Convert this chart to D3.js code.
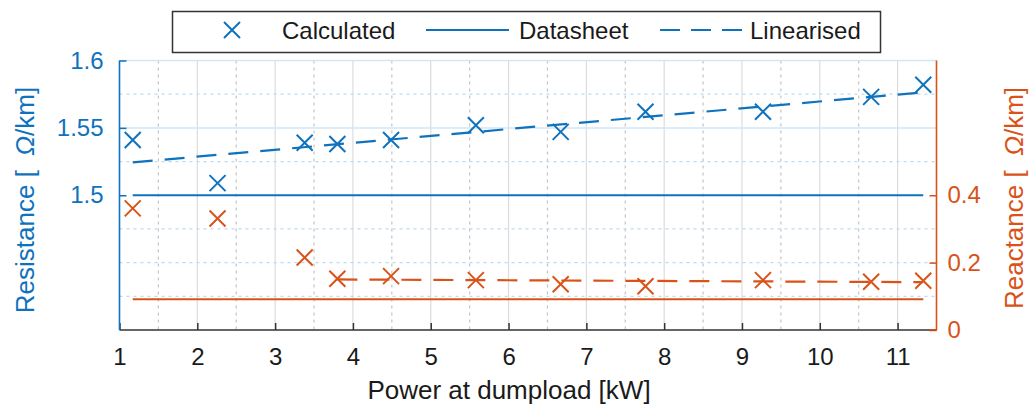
<!DOCTYPE html>
<html>
<head>
<meta charset="utf-8">
<script src="https://cdn.jsdelivr.net/npm/d3@7"></script>
<style>
  html, body { margin: 0; padding: 0; background: #fff; }
  svg { display: block; font-family: "Liberation Sans", Arial, Helvetica, sans-serif; }
</style>
</head>
<body>
<svg id="chart" width="1031" height="405"></svg>
<script>
// ---- data ----
const power = [1.17, 2.26, 3.38, 3.80, 4.49, 5.58, 6.67, 7.76, 9.27, 10.66, 11.33];
const resistanceCalc = [1.541, 1.509, 1.539, 1.538, 1.541, 1.552, 1.547, 1.562, 1.562, 1.573, 1.582];
const reactanceCalc = [0.361, 0.331, 0.215, 0.152, 0.160, 0.148, 0.136, 0.130, 0.148, 0.143, 0.146];
const resistanceDatasheet = [1.5, 1.5];
const reactanceDatasheet = [0.091, 0.091];
const datasheetPower = [1.17, 11.33];
const resistanceLinPower = [1.17, 11.33];
const resistanceLin = [1.5244, 1.5764];
const reactanceLinPower = [3.80, 11.33];
const reactanceLin = [0.150, 0.142];
const xTicks = [1, 2, 3, 4, 5, 6, 7, 8, 9, 10, 11];
const xMinorTicks = [1.5, 2.5, 3.5, 4.5, 5.5, 6.5, 7.5, 8.5, 9.5, 10.5, 11.5];
const leftTicks = [1.5, 1.55, 1.6];
const leftMinor = [1.425, 1.45, 1.475, 1.525, 1.575];
const rightTicks = [0, 0.2, 0.4];
const legendLabels = ["Calculated", "Datasheet", "Linearised"];

// ---- styling ----
const BLUE = "#0f72bd";
const ORANGE = "#d95319";
const svg = d3.select("#chart");
const L = 119.5, R = 936.5, T = 60.5, B = 330;

const x = d3.scaleLinear().domain([1, 11.5]).range([L, R]);
const yL = d3.scaleLinear().domain([1.4, 1.6]).range([B, T]);
const yR = d3.scaleLinear().domain([0, 0.8]).range([B, T]);

// grid
const grid = svg.append("g");
grid.selectAll(".vmin").data(xMinorTicks.filter(d => d < 11.5)).enter().append("line")
  .attr("x1", d => x(d)).attr("x2", d => x(d)).attr("y1", T).attr("y2", B)
  .attr("stroke", "#c4c4c4").attr("stroke-width", 1.2).attr("stroke-dasharray", "3,4");
grid.selectAll(".vmaj").data(xTicks.slice(1)).enter().append("line")
  .attr("x1", d => x(d)).attr("x2", d => x(d)).attr("y1", T).attr("y2", B)
  .attr("stroke", "#dcdcdc").attr("stroke-width", 1.2);
grid.selectAll(".hmin").data(leftMinor).enter().append("line")
  .attr("x1", L).attr("x2", R).attr("y1", d => yL(d)).attr("y2", d => yL(d))
  .attr("stroke", "#bcdaf0").attr("stroke-width", 1.2).attr("stroke-dasharray", "3,4");
grid.selectAll(".hmaj").data([1.55, 1.6]).enter().append("line")
  .attr("x1", L).attr("x2", R).attr("y1", d => yL(d)).attr("y2", d => yL(d))
  .attr("stroke", "#d3e6f5").attr("stroke-width", 1.5);

// axes
const xAxis = svg.append("g").attr("transform", `translate(0,${B})`)
  .call(d3.axisBottom(x).tickValues(xTicks).tickSize(-7).tickPadding(18).tickFormat(d3.format("d")));
xAxis.select(".domain").remove();
xAxis.selectAll("line").attr("stroke", "#333").attr("stroke-width", 1.5);
xAxis.selectAll("text").attr("fill", "#1a1a1a").attr("font-size", 24);

const lAxis = svg.append("g").attr("transform", `translate(${L},0)`)
  .call(d3.axisLeft(yL).tickValues(leftTicks).tickSize(-7).tickPadding(16).tickFormat(d => String(d)));
lAxis.select(".domain").remove();
lAxis.selectAll("line").attr("stroke", BLUE).attr("stroke-width", 1.5);
lAxis.selectAll("text").attr("fill", BLUE).attr("font-size", 24);

const rAxis = svg.append("g").attr("transform", `translate(${R},0)`)
  .call(d3.axisRight(yR).tickValues(rightTicks).tickSize(-7).tickPadding(11).tickFormat(d => String(d)));
rAxis.select(".domain").remove();
rAxis.selectAll("line").attr("stroke", ORANGE).attr("stroke-width", 1.5);
rAxis.selectAll("text").attr("fill", ORANGE).attr("font-size", 24);

// axis lines
svg.append("line").attr("x1", L).attr("x2", R).attr("y1", B).attr("y2", B)
  .attr("stroke", "#333").attr("stroke-width", 1.6);
svg.append("line").attr("x1", L).attr("x2", L).attr("y1", T).attr("y2", B)
  .attr("stroke", BLUE).attr("stroke-width", 1.6);
svg.append("line").attr("x1", R).attr("x2", R).attr("y1", T).attr("y2", B)
  .attr("stroke", ORANGE).attr("stroke-width", 1.6);
svg.append("line").attr("x1", R - 7).attr("x2", R).attr("y1", B).attr("y2", B)
  .attr("stroke", ORANGE).attr("stroke-width", 1.6);

// lines
const lineL = d3.line().x(d => x(d[0])).y(d => yL(d[1]));
const lineR = d3.line().x(d => x(d[0])).y(d => yR(d[1]));
const plot = svg.append("g");
plot.append("path").datum(d3.zip(datasheetPower, resistanceDatasheet)).attr("d", lineL)
  .attr("fill", "none").attr("stroke", BLUE).attr("stroke-width", 2);
plot.append("path").datum(d3.zip(datasheetPower, reactanceDatasheet)).attr("d", lineR)
  .attr("fill", "none").attr("stroke", ORANGE).attr("stroke-width", 2);
plot.append("path").datum(d3.zip(resistanceLinPower, resistanceLin)).attr("d", lineL)
  .attr("fill", "none").attr("stroke", BLUE).attr("stroke-width", 2.2).attr("stroke-dasharray", "20,12");
plot.append("path").datum(d3.zip(reactanceLinPower, reactanceLin)).attr("d", lineR)
  .attr("fill", "none").attr("stroke", ORANGE).attr("stroke-width", 2.2).attr("stroke-dasharray", "20,12");

// markers
const mk = 8;
function cross(g, cx, cy, color) {
  g.append("path").attr("d", `M${cx - mk},${cy - mk}L${cx + mk},${cy + mk}M${cx - mk},${cy + mk}L${cx + mk},${cy - mk}`)
    .attr("stroke", color).attr("stroke-width", 2).attr("fill", "none");
}
power.forEach((p, i) => cross(plot, x(p), yL(resistanceCalc[i]), BLUE));
power.forEach((p, i) => cross(plot, x(p), yR(reactanceCalc[i]), ORANGE));

// axis labels
svg.append("text").attr("x", 509).attr("y", 399).attr("text-anchor", "middle")
  .attr("font-size", 26).attr("fill", "#1a1a1a").text("Power at dumpload [kW]");
const lt = svg.append("text").attr("transform", "translate(34,200) rotate(-90)")
  .attr("text-anchor", "middle").attr("font-size", 26).attr("fill", BLUE);
lt.append("tspan").text("Resistance [\u00a0\u00a0");
lt.append("tspan").attr("font-style", "italic").text("\u03a9");
lt.append("tspan").text("/km]");
const rt = svg.append("text").attr("transform", "translate(1023,198) rotate(-90)")
  .attr("text-anchor", "middle").attr("font-size", 26).attr("fill", ORANGE);
rt.append("tspan").text("Reactance [\u00a0\u00a0");
rt.append("tspan").attr("font-style", "italic").text("\u03a9");
rt.append("tspan").text("/km]");

// legend
const lg = svg.append("g");
lg.append("rect").attr("x", 172.5).attr("y", 11.5).attr("width", 708).attr("height", 41)
  .attr("fill", "#fff").attr("stroke", "#333").attr("stroke-width", 1.5);
cross(lg, 232, 30, BLUE);
lg.append("line").attr("x1", 426).attr("x2", 509).attr("y1", 30).attr("y2", 30)
  .attr("stroke", BLUE).attr("stroke-width", 2);
lg.append("line").attr("x1", 660).attr("x2", 742).attr("y1", 30).attr("y2", 30)
  .attr("stroke", BLUE).attr("stroke-width", 2).attr("stroke-dasharray", "20,11");
const legendX = [282, 519, 750];
lg.selectAll(".lt").data(legendLabels).enter().append("text")
  .attr("x", (d, i) => legendX[i]).attr("y", 38.5).attr("font-size", 24).attr("fill", "#1a1a1a")
  .text(d => d);
</script>
</body>
</html>
